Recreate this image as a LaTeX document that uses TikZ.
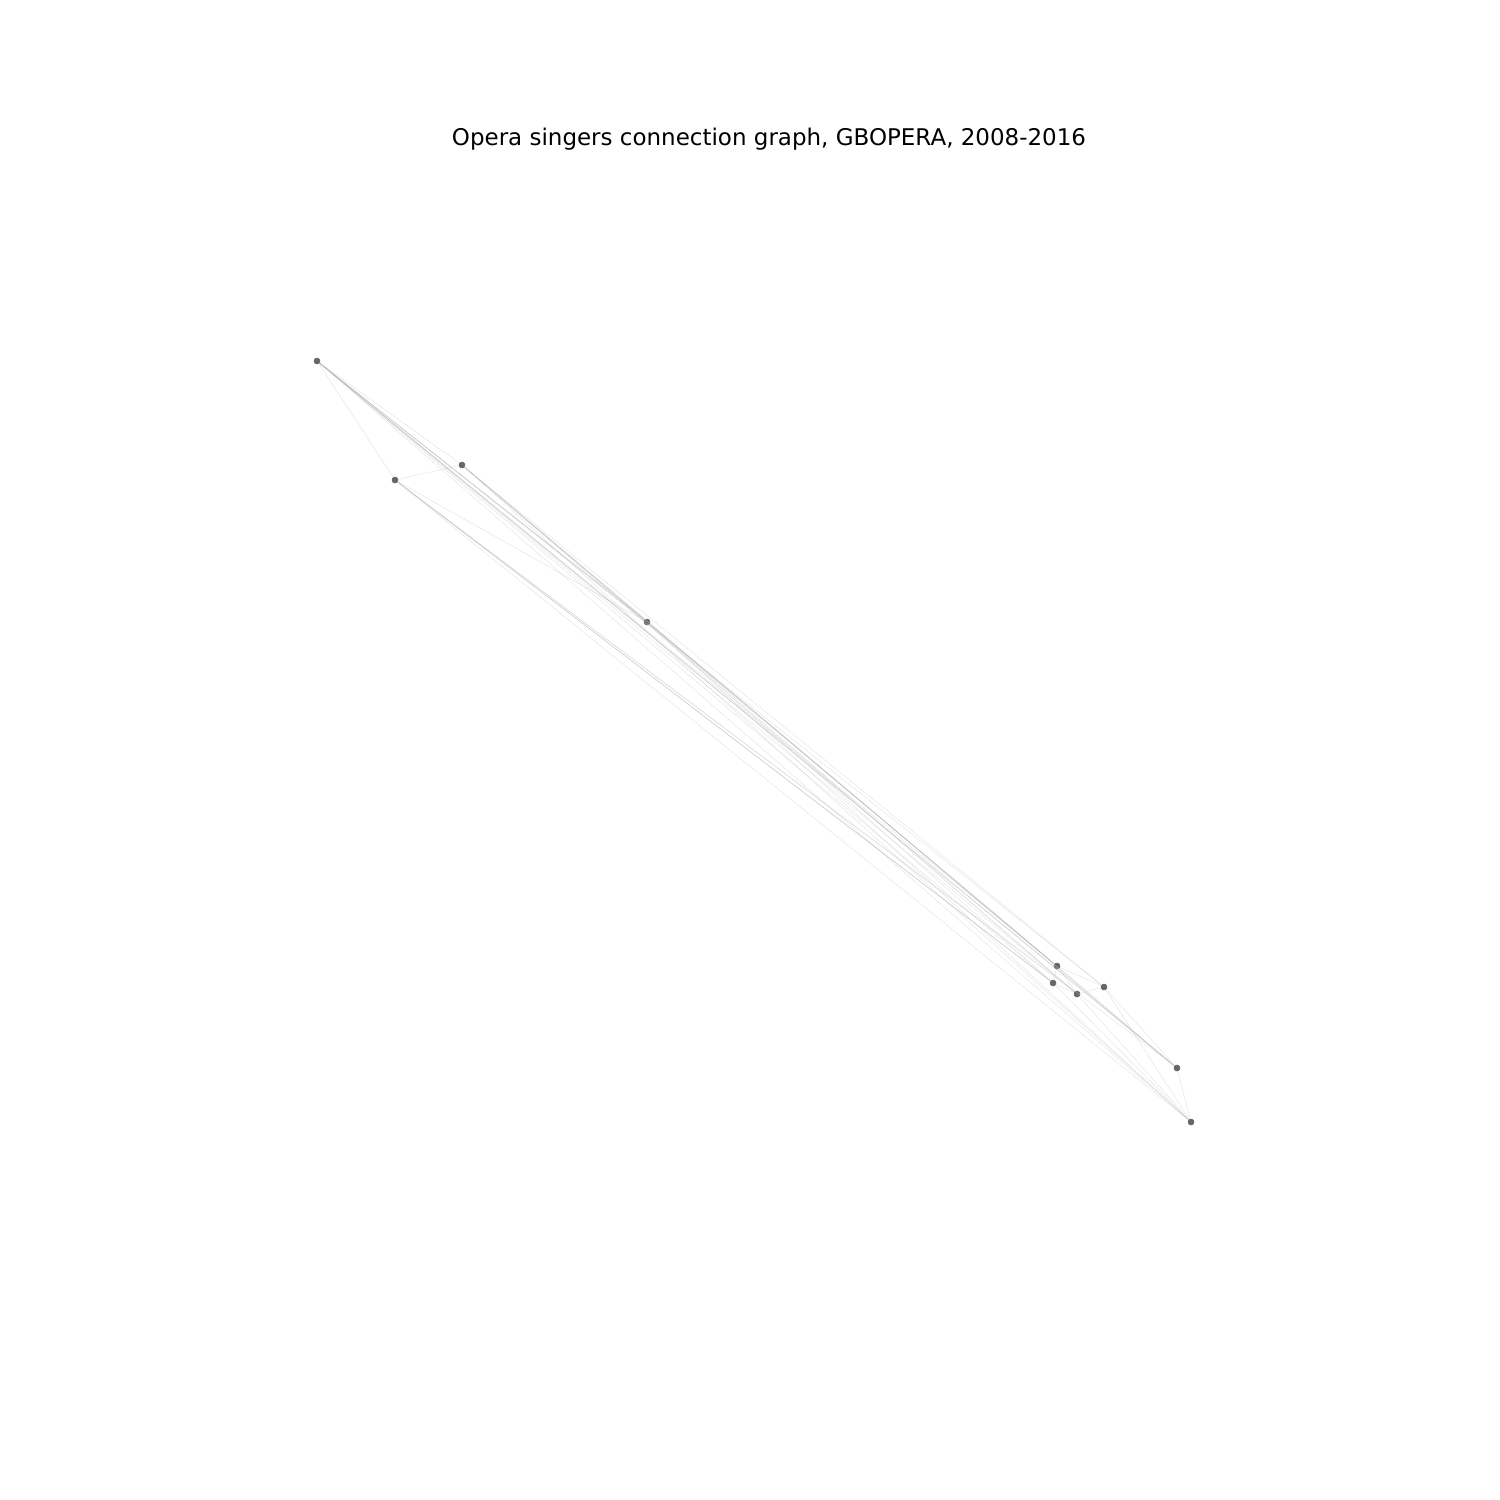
\documentclass[tikz,border=0pt]{standalone}
\usepackage{fontspec}
\setmainfont{DejaVu Sans}
\begin{document}
\begin{tikzpicture}[x=0.01in, y=-0.01in,
  singer/.style={draw=black!60, fill=black!60, circle, inner sep=0pt, minimum size=0.06in},
  link/.style={draw=black!25, line width=0.3pt, opacity=0.45},
  strong/.style={draw=black!35, line width=0.45pt, opacity=0.6}]
  \useasboundingbox (0,0) rectangle (1500,1500);
  \node (title) at (769,139) {\fontsize{16.6pt}{19pt}\selectfont Opera singers connection graph, GBOPERA, 2008-2016};

  \node[singer] (s0) at (317,361) {};
  \node[singer] (s1) at (395,480) {};
  \node[singer] (s2) at (462,465) {};
  \node[singer] (s3) at (647,622) {};
  \node[singer] (s4) at (1057,966) {};
  \node[singer] (s5) at (1053,983) {};
  \node[singer] (s6) at (1077,994) {};
  \node[singer] (s7) at (1104,987) {};
  \node[singer] (s8) at (1177,1068) {};
  \node[singer] (s9) at (1191,1122) {};

  % upper group
  \draw[link] (s0) -- (s1);
  \draw[link] (s0) -- (s2);
  \draw[strong] (s0) -- (s3);
  \draw[link] (s1) -- (s2);
  \draw[link] (s1) -- (s3);
  \draw[strong] (s2) -- (s3);

  % long links
  \draw[link] (s0) -- (s4);
  \draw[link] (s0) -- (s5);
  \draw[link] (s0) -- (s6);
  \draw[link] (s0) -- (s7);
  \draw[strong] (s0) -- (s8);
  \draw[link] (s0) -- (s9);
  \draw[strong] (s1) -- (s5);
  \draw[link] (s1) -- (s6);
  \draw[link] (s1) -- (s8);
  \draw[link] (s1) -- (s9);
  \draw[link] (s2) -- (s4);
  \draw[link] (s2) -- (s6);
  \draw[link] (s2) -- (s7);
  \draw[link] (s2) -- (s8);
  \draw[link] (s2) -- (s9);
  \draw[strong] (s3) -- (s4);
  \draw[link] (s3) -- (s5);
  \draw[link] (s3) -- (s6);
  \draw[link] (s3) -- (s8);
  \draw[link] (s3) -- (s9);

  % lower group
  \draw[link] (s4) -- (s5);
  \draw[link] (s4) -- (s6);
  \draw[link] (s4) -- (s7);
  \draw[link] (s4) -- (s8);
  \draw[link] (s5) -- (s6);
  \draw[link] (s5) -- (s9);
  \draw[link] (s6) -- (s7);
  \draw[link] (s6) -- (s9);
  \draw[link] (s7) -- (s8);
  \draw[link] (s7) -- (s9);
  \draw[link] (s8) -- (s9);
\end{tikzpicture}
\end{document}
